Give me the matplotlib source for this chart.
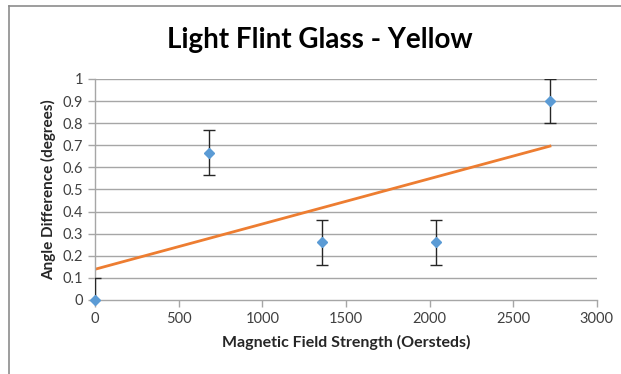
import matplotlib
matplotlib.use("Agg")
import matplotlib.pyplot as plt
import numpy as np
from matplotlib.lines import Line2D

# data
field = [0, 680, 1360, 2040, 2720]
angle = [0.0, 0.667, 0.26, 0.26, 0.9]
err = [0.1, 0.1, 0.1, 0.1, 0.1]

xticks = [0, 500, 1000, 1500, 2000, 2500, 3000]
yticks = [0, 0.1, 0.2, 0.3, 0.4, 0.5, 0.6, 0.7, 0.8, 0.9, 1]

plt.rcParams['font.family'] = ['Lato', 'DejaVu Sans']

fig = plt.figure(figsize=(6.21, 3.74), dpi=100)
ax = fig.add_axes([0.153, 0.198, 0.808, 0.591])

grid_col = '#a6a6a6'
for y in yticks[1:]:
    ax.axhline(y, color=grid_col, lw=1, zorder=1)

# linear trendline
slope, icept = np.polyfit(field, angle, 1)
xs = np.array([field[0], field[-1]])
ax.plot(xs, slope * xs + icept, color='#ed7d31', lw=2, zorder=2)

ax.errorbar(field, angle, yerr=err, fmt='none', ecolor='#262626',
            elinewidth=1, capsize=4, capthick=1, zorder=3)
ax.plot(field, angle, 'D', color='#5b9bd5', ms=5, mec='#5b9bd5',
        zorder=4, clip_on=False)

ax.set_xlim(0, 3000)
ax.set_ylim(0, 1)
ax.set_xticks(xticks)
ax.set_yticks(yticks)
ax.set_yticklabels([f'{v:g}' for v in yticks])

for s in ['top', 'right']:
    ax.spines[s].set_visible(False)
for s in ['left', 'bottom']:
    ax.spines[s].set_color(grid_col)
    ax.spines[s].set_linewidth(1)
ax.tick_params(axis='both', colors=grid_col, length=5, width=1,
               labelcolor='#404040', labelsize=10.5)
ax.tick_params(axis='x', pad=4)

ax.set_xlabel('Magnetic Field Strength (Oersteds)', fontsize=11.5,
              fontweight='bold', color='#262626', labelpad=6)
ax.set_ylabel('Angle Difference (degrees)', fontsize=11,
              fontweight='bold', color='#262626', labelpad=5)

fig.text(0.515, 0.893, 'Light Flint Glass - Yellow', ha='center',
         va='center', fontsize=20, fontweight='bold', color='black')

# chart frame (left and top edges visible)
fig.add_artist(Line2D([9 / 621, 9 / 621], [0, 1 - 6 / 374],
                      transform=fig.transFigure, color='#8c8c8c', lw=1.2))
fig.add_artist(Line2D([9 / 621, 1], [1 - 6 / 374, 1 - 6 / 374],
                      transform=fig.transFigure, color='#8c8c8c', lw=1.2))

fig.savefig('out.png', dpi=100)
